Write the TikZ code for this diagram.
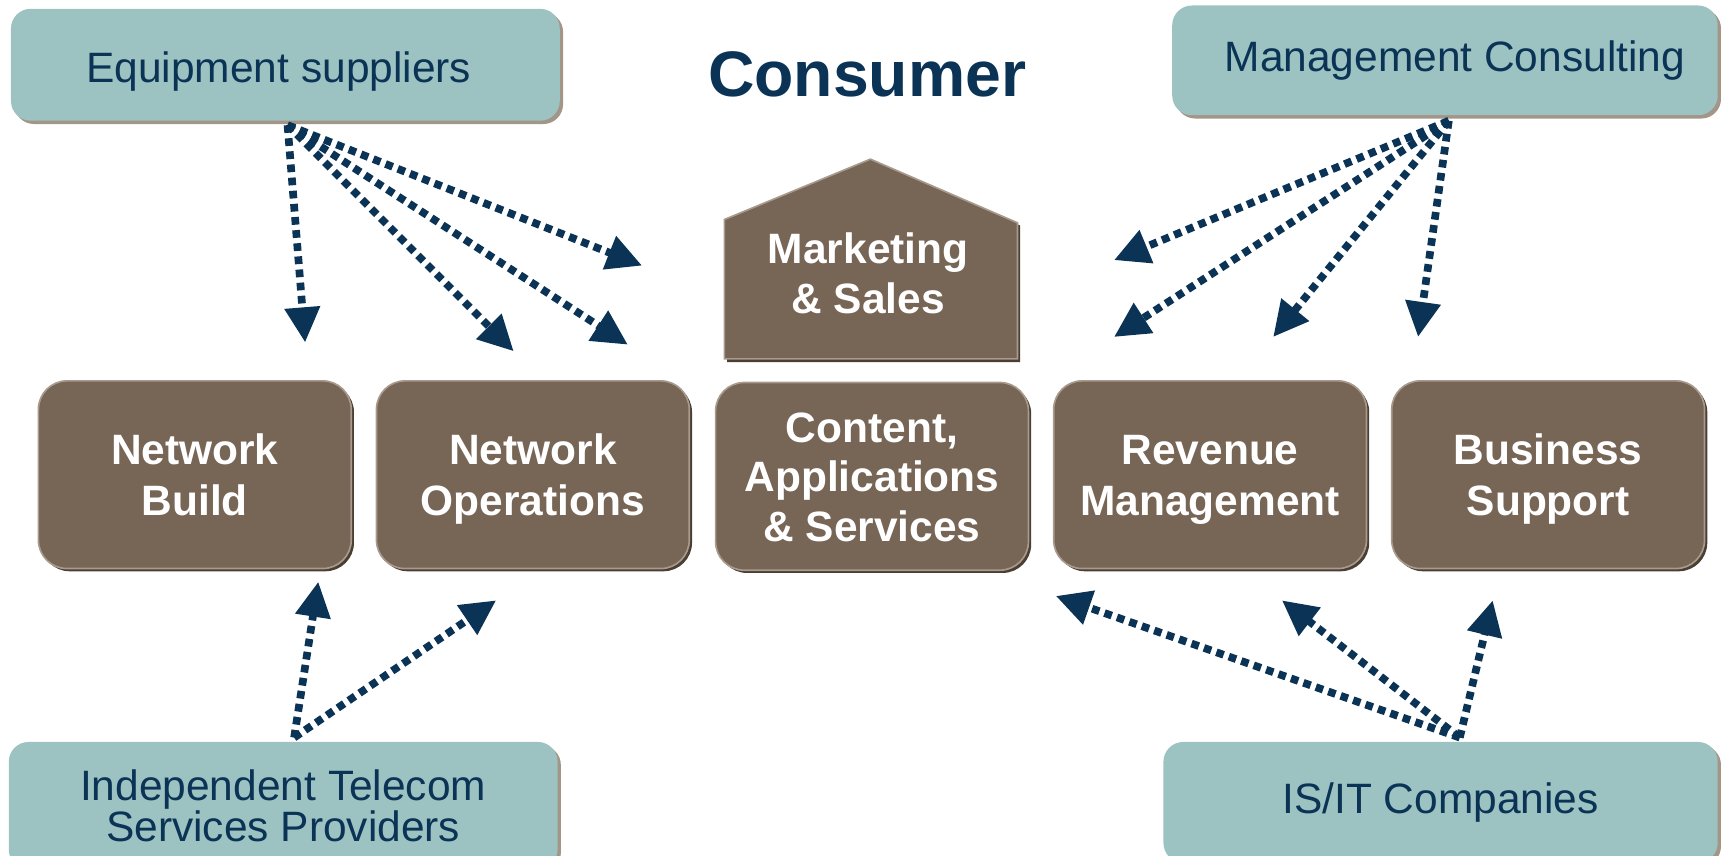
\documentclass[tikz,border=0pt]{standalone}
\usepackage{fontspec}
\setmainfont{Liberation Sans}
\usetikzlibrary{arrows.meta,shadows}
\definecolor{navy}{HTML}{0A3356}
\definecolor{tealf}{HTML}{9CC3C1}
\definecolor{tealsh}{HTML}{A39587}
\definecolor{brownf}{HTML}{776556}
\definecolor{browndk}{HTML}{4B3E33}
\definecolor{brownlt}{HTML}{A89A8D}
\newcommand{\myTopStrut}{\rule{0pt}{37.2pt}}
\newcommand{\myBotStrut}{\rule[-9pt]{0pt}{9pt}}
\tikzset{
  supplier/.style={rounded corners=18pt, fill=tealf, text=navy, align=center, inner sep=0pt,
    font=\fontsize{38.7}{37}\selectfont,
    drop shadow={shadow xshift=3pt, shadow yshift=-3pt, fill=tealsh, opacity=1}},
  func/.style={rounded corners=26pt, fill=brownf, draw=brownlt, line width=1.5pt, text=white,
    align=center, inner sep=0pt, minimum width=285pt, minimum height=171pt,
    font=\fontsize{38.7}{46}\selectfont\bfseries,
    drop shadow={shadow xshift=2.5pt, shadow yshift=-2.5pt, fill=browndk, opacity=1}},
  functext/.style={text=white, align=center, inner sep=0pt, font=\fontsize{38.7}{46}\selectfont\bfseries},
  dotarrow/.style={draw=navy, line width=7pt, dash pattern=on 7pt off 5pt,
    -{Triangle[length=32pt,width=31pt]}}
}
\begin{document}
\begin{tikzpicture}[x=1pt,y=-1pt]
\useasboundingbox (0,0) rectangle (1568,779);
% supplier boxes
\node[supplier, minimum width=500pt, minimum height=102pt, text height=40pt, text depth=8pt] (eq) at (260,59) {\hspace*{-12pt}Equipment suppliers};
\node[supplier, minimum width=497pt, minimum height=100pt] (mc) at (1316.5,55) {\hspace{18pt}Management Consulting};
\node[supplier, minimum width=500pt, minimum height=116pt] (itsp) at (258,734) {Independent Telecom\\Services Providers};
\node[supplier, minimum width=505pt, minimum height=110pt] (isit) at (1312.5,731) {IS/IT Companies};
% title
\node[text=navy, inner sep=0pt, font=\fontsize{58.6}{70}\selectfont\bfseries] (cons) at (790,68) {Consumer};
% marketing house
\fill[browndk] (662.5,202.5) -- (795.5,147.5) -- (929.5,205.5) -- (929.5,330) -- (662.5,330) -- cycle;
\filldraw[fill=brownf, draw=brownlt, line width=1.5pt] (660,200) -- (793,145) -- (927,203) -- (927,327) -- (660,327) -- cycle;
\node[functext] (ms) at (791,249) {Marketing\\\& Sales};
% functional boxes
\node[func] (nb) at (177.5,432.5) {\myTopStrut Network\\Build\myBotStrut};
\node[func] (no) at (485.5,432.5) {\myTopStrut Network\\Operations\myBotStrut};
\node[func, font=\fontsize{38.7}{45}\selectfont\bfseries] (cas) at (794.5,434) {\myTopStrut Content,\\Applications\\\& Services\myBotStrut};
\node[func] (rm) at (1102.5,432.5) {\myTopStrut Revenue\\Management\myBotStrut};
\node[func] (bs) at (1410.5,432.5) {\myTopStrut Business\\Support\myBotStrut};
% arrow ends
\coordinate (eqs) at (262,114);
\coordinate (mcs) at (1320,110);
\coordinate (its) at (268,672);
\coordinate (iss) at (1330,672);
\coordinate (e1) at (278,312);
\coordinate (e2) at (468,320);
\coordinate (e3) at (572,314);
\coordinate (e4) at (585,242);
\coordinate (m1) at (1015,237);
\coordinate (m2) at (1015,307);
\coordinate (m3) at (1160,307);
\coordinate (m4) at (1292,307);
\coordinate (t1) at (290,530);
\coordinate (t2) at (452,547);
\coordinate (s1) at (962,543);
\coordinate (s2) at (1168,547);
\coordinate (s3) at (1360,547);
% arrows
\draw[dotarrow] (eqs) -- (e1);
\draw[dotarrow] (eqs) -- (e2);
\draw[dotarrow] (eqs) -- (e3);
\draw[dotarrow] (eqs) -- (e4);
\draw[dotarrow] (mcs) -- (m1);
\draw[dotarrow] (mcs) -- (m2);
\draw[dotarrow] (mcs) -- (m3);
\draw[dotarrow] (mcs) -- (m4);
\draw[dotarrow] (its) -- (t1);
\draw[dotarrow] (its) -- (t2);
\draw[dotarrow] (iss) -- (s1);
\draw[dotarrow] (iss) -- (s2);
\draw[dotarrow] (iss) -- (s3);
\end{tikzpicture}
\end{document}
